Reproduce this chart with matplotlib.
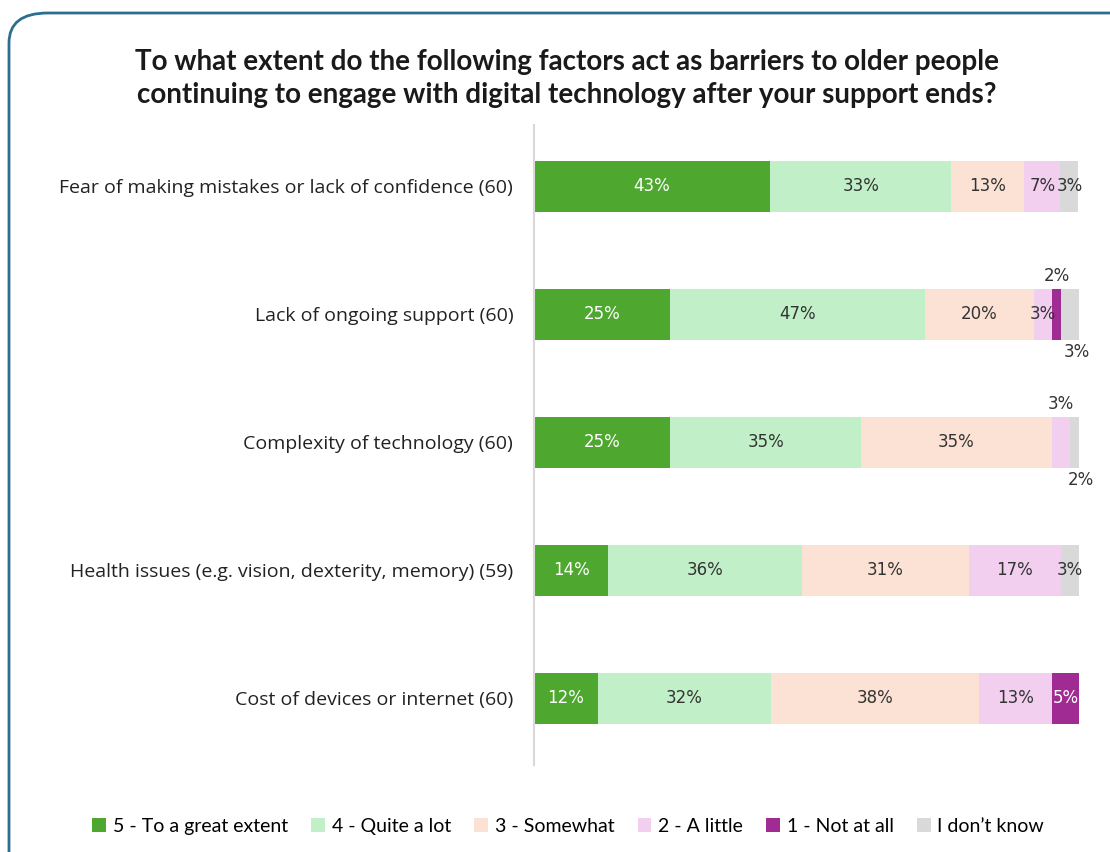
import matplotlib.pyplot as plt
from matplotlib.patches import FancyBboxPatch, Patch
import numpy as np

categories = [
    "Fear of making mistakes or lack of confidence (60)",
    "Lack of ongoing support (60)",
    "Complexity of technology (60)",
    "Health issues (e.g. vision, dexterity, memory) (59)",
    "Cost of devices or internet (60)",
]
series_names = ["5 - To a great extent", "4 - Quite a lot", "3 - Somewhat",
                "2 - A little", "1 - Not at all", "I don\u2019t know"]
colors = ["#4EA72E", "#C1F0C8", "#FBE2D5", "#F2CEEF", "#A02B93", "#D9D9D9"]
text_colors = ["white", "#333333", "#333333", "#333333", "white", "#333333"]

# percentages per category, one list per response
great = [43.3, 25.0, 25.0, 13.6, 11.7]
quite = [33.3, 46.7, 35.0, 35.6, 31.7]
somewhat = [13.3, 20.0, 35.0, 30.6, 38.3]
little = [6.7, 3.3, 3.3, 16.9, 13.3]
not_at_all = [0.0, 1.7, 0.0, 0.0, 5.0]
dont_know = [3.3, 3.3, 1.7, 3.4, 0.0]

values = np.array([great, quite, somewhat, little, not_at_all, dont_know])

# labels of thin segments are moved off the bar
outside = {(1, 4): "above", (1, 5): "below", (2, 3): "above", (2, 5): "below"}

title = ("To what extent do the following factors act as barriers to older people\n"
         "continuing to engage with digital technology after your support ends?")

fig = plt.figure(figsize=(11.1, 8.52), dpi=100)
fig.patch.set_facecolor("white")

frame = FancyBboxPatch((9 / 1110, -0.1), 1.2, (852 - 13) / 852 + 0.1,
                       boxstyle="round,pad=0,rounding_size=0.035",
                       transform=fig.transFigure, fill=False,
                       edgecolor="#2C6E8F", linewidth=2, zorder=0)
fig.patches.append(frame)

ax = fig.add_axes([534 / 1110, 87 / 852, 545 / 1110, 640 / 852])
y = np.arange(len(categories))
left = np.zeros(len(categories))
for i in range(len(series_names)):
    ax.barh(y, values[i], left=left, height=0.4, color=colors[i],
            label=series_names[i], zorder=2)
    for j in range(len(categories)):
        v = values[i][j]
        if v <= 0:
            continue
        cx = left[j] + v / 2
        cy = y[j]
        pos = outside.get((j, i))
        color = text_colors[i]
        if pos == "above":
            cy = y[j] - 0.3
            color = "#333333"
        elif pos == "below":
            cy = y[j] + 0.29
            cx += 1.2
            color = "#333333"
        ax.text(cx, cy, f"{round(v)}%", ha="center", va="center",
                fontsize=12, color=color, family="DejaVu Sans", zorder=3)
    left += values[i]

ax.set_xlim(0, 100)
ax.set_ylim(4.52, -0.48)
ax.set_xticks([])
ax.set_yticks(y)
ax.set_yticklabels(categories, fontsize=14, family="Open Sans", color="#222222")
ax.tick_params(axis="y", length=0, pad=15)
for s in ["top", "right", "bottom"]:
    ax.spines[s].set_visible(False)
ax.spines["left"].set_color("#D9D9D9")
ax.spines["left"].set_linewidth(1.5)

fig.text(0.511, 0.908, title, ha="center", va="center", fontsize=20,
         fontweight="bold", family="Lato", color="#1a1a1a", linespacing=1.3)

handles = [Patch(facecolor=c, edgecolor="none") for c in colors]
fig.legend(handles, series_names, loc="center", bbox_to_anchor=(0.512, 0.030),
           ncol=6, frameon=False, handlelength=0.7,
           handleheight=0.7, handletextpad=0.35, columnspacing=1.2,
           prop={"family": "Lato", "size": 14})

fig.savefig("out.png", dpi=100)
